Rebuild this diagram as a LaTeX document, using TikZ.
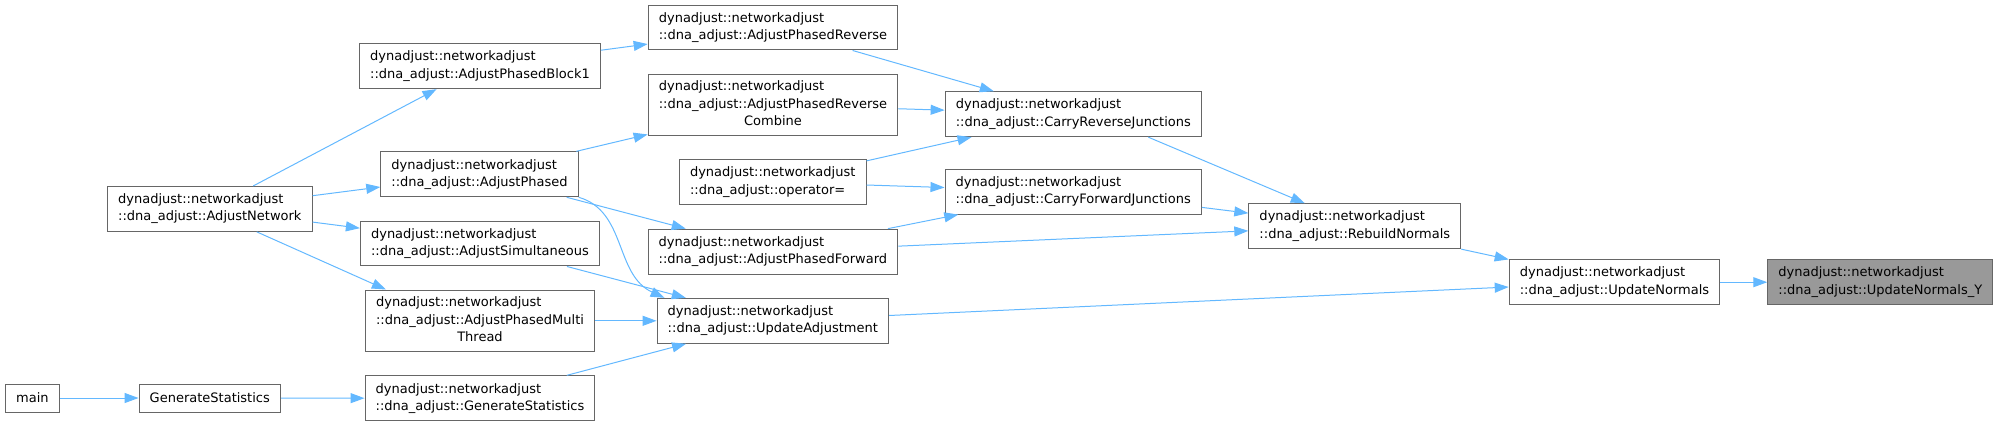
\documentclass[tikz,border=0pt]{standalone}
\usepackage{fontspec}
\setmainfont{DejaVu Sans}
\usepackage{xcolor}
\usepackage{tikz}
\usetikzlibrary{arrows.meta,calc}

\definecolor{edgeblue}{HTML}{63B8FF}
\definecolor{boxgray}{HTML}{666666}
\definecolor{targetgray}{HTML}{999999}

\begin{document}
\begin{tikzpicture}[
  x=0.75pt, y=-0.75pt,
  func/.style={draw=boxgray, line width=0.75pt, fill=white, font=\fontsize{9.75}{13}\selectfont, align=left, inner xsep=8pt, inner ysep=5.5pt},
  single/.style={func, minimum height=21pt},
  triple/.style={func, inner ysep=3.6pt},
  target/.style={func, fill=targetgray},
  edge/.style={-{Triangle[length=10.5pt,width=7.5pt]}, edgeblue, line width=0.75pt},
]
\useasboundingbox (0,0) rectangle (1998,426);

% Entry points
\node[single] (main) at (32.4,398) {main};
\node[single] (genstat) at (209.8,398) {GenerateStatistics};
\node[func] (adjnet) at (209.8,208.9) {dynadjust::networkadjust\\::dna\_adjust::AdjustNetwork};

% Adjustment modes
\node[func] (blockone) at (480,66.2) {dynadjust::networkadjust\\::dna\_adjust::AdjustPhasedBlock1};
\node[func] (phased) at (479.5,174.3) {dynadjust::networkadjust\\::dna\_adjust::AdjustPhased};
\node[func] (simult) at (479.9,243.5) {dynadjust::networkadjust\\::dna\_adjust::AdjustSimultaneous};
\node[triple] (multi) at (480,320.8) {\begin{tabular}{@{}l@{}}dynadjust::networkadjust\\::dna\_adjust::AdjustPhasedMulti\\\multicolumn{1}{@{}c@{}}{Thread}\end{tabular}};
\node[func] (genstatdna) at (480,398.3) {dynadjust::networkadjust\\::dna\_adjust::GenerateStatistics};

% Phased passes
\node[func] (reverse) at (773,27.5) {dynadjust::networkadjust\\::dna\_adjust::AdjustPhasedReverse};
\node[triple] (revcomb) at (773,104.8) {\begin{tabular}{@{}l@{}}dynadjust::networkadjust\\::dna\_adjust::AdjustPhasedReverse\\\multicolumn{1}{@{}c@{}}{Combine}\end{tabular}};
\node[func] (opeq) at (772.7,182) {dynadjust::networkadjust\\::dna\_adjust::operator=};
\node[func] (forward) at (772.9,251.6) {dynadjust::networkadjust\\::dna\_adjust::AdjustPhasedForward};
\node[func] (updadj) at (772.8,320.8) {dynadjust::networkadjust\\::dna\_adjust::UpdateAdjustment};

% Junctions and normals
\node[func] (carryrev) at (1073.3,114.2) {dynadjust::networkadjust\\::dna\_adjust::CarryReverseJunctions};
\node[func] (carryfwd) at (1073.2,191.6) {dynadjust::networkadjust\\::dna\_adjust::CarryForwardJunctions};
\node[func] (rebuild) at (1354.8,226.2) {dynadjust::networkadjust\\::dna\_adjust::RebuildNormals};
\node[func] (updnorm) at (1614.5,282.2) {dynadjust::networkadjust\\::dna\_adjust::UpdateNormals};
\node[target] (updnormy) at (1880.3,282.2) {dynadjust::networkadjust\\::dna\_adjust::UpdateNormals\_Y};

% Calls
\draw[edge] (main) -- (genstat);
\draw[edge] (genstat) -- (genstatdna);
\draw[edge] (genstatdna) -- (updadj);
\draw[edge] (adjnet) -- (blockone);
\draw[edge] (adjnet) -- (phased);
\draw[edge] (adjnet) -- (simult);
\draw[edge] ($(adjnet.south)+(47,0)$) -- ($(multi.north west)+(21,0)$);
\draw[edge] (blockone) -- (reverse);
\draw[edge] (phased) -- (revcomb);
\draw[edge] (phased) -- (forward);
\draw[edge] (phased.south east) .. controls +(48,14) and +(-50,-23) .. ($(updadj.north west)+(8,0)$);
\draw[edge] (simult) -- (updadj);
\draw[edge] (multi) -- (updadj);
\draw[edge] (reverse) -- (carryrev);
\draw[edge] (revcomb) -- (carryrev);
\draw[edge] (opeq) -- (carryrev);
\draw[edge] (opeq) -- (carryfwd);
\draw[edge] (forward) -- (carryfwd);
\draw[edge] (forward) -- (rebuild);
\draw[edge] (updadj) -- (updnorm);
\draw[edge] ($(carryrev.south)+(75,0)$) -- ($(rebuild.north)+(-50,0)$);
\draw[edge] (carryfwd) -- (rebuild);
\draw[edge] (rebuild) -- (updnorm);
\draw[edge] (updnorm) -- (updnormy);

\end{tikzpicture}
\end{document}
